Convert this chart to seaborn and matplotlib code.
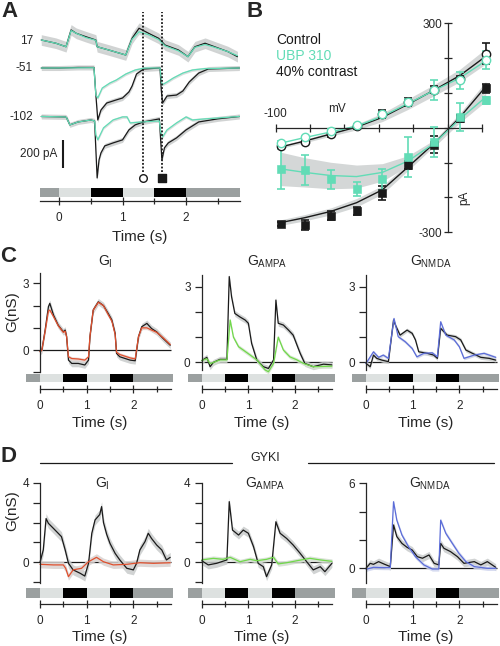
import numpy as np
import matplotlib
matplotlib.use('Agg')
import matplotlib.pyplot as plt
from matplotlib.lines import Line2D
import seaborn as sns

# ---------------- colours / canvas ----------------
W, H = 500, 646
TEAL = '#62dcb6'
RED = '#e0502e'
GREEN = '#70d84a'
BLUE = '#5b6cd8'
GREY_BAND = '#c9cccc'

# ---------------- stimulus ----------------
STIM_EDGES = [-0.3, 0.0, 0.5, 1.0, 1.5, 2.0, 2.85]
STIM_SHADES = ['#9ba0a0', '#dde1e0', '#000000', '#dde1e0', '#000000', '#9ba0a0']
T_END = 2.8
PROBE_T = [1.33, 1.62]          # open circle / filled square times

# ---------------- panel A (pA) ----------------
A_T17_K = [-0.28, -0.05, 0.11, 0.19, 0.27, 0.42, 0.58, 0.60, 0.78, 1.05, 1.15, 1.26, 1.41, 1.57,
           1.67, 1.88, 2.03, 2.14, 2.30, 2.45, 2.66, 2.81]
A_V17_K = [7, -16, -41, 79, 55, 31, 7, -41, -64, -100, 19, 91, 55, 19, -29, -64, -112, -41, -16,
           -41, -76, -112]
A_V17_G = [7, -16, -41, 75, 55, 25, 5, -41, -64, -100, 12, 66, 45, 10, -35, -70, -112, -45, -25,
           -45, -76, -105]

A_T51_K = [-0.28, 0.0, 0.30, 0.55, 0.58, 0.61, 0.66, 0.75, 0.90, 1.00, 1.10, 1.15, 1.22, 1.33,
           1.59, 1.61, 1.63, 1.70, 1.85, 1.95, 2.05, 2.20, 2.35, 2.84]
A_V51_K = [0, 0, 4, 4, -193, -371, -300, -250, -228, -214, -171, -129, -43, -7, 0, -157, -250,
           -200, -193, -164, -100, -36, -7, 0]
A_T51_G = [-0.28, 0.55, 0.58, 0.61, 0.68, 0.80, 0.90, 1.05, 1.20, 1.35, 1.59, 1.62, 1.70, 1.80,
           1.95, 2.10, 2.30, 2.84]
A_V51_G = [0, 2, -193, -214, -143, -107, -86, -43, -14, 0, 0, -121, -100, -71, -36, -14, -4, 0]

A_T102_K = [-0.28, 0.10, 0.12, 0.17, 0.30, 0.50, 0.56, 0.58, 0.60, 0.63, 0.66, 0.72, 0.85, 1.00,
            1.10, 1.20, 1.33, 1.58, 1.60, 1.62, 1.66, 1.72, 1.85, 2.00, 2.20, 2.50, 2.84]
A_V102_K = [1, -2, -9, -59, -38, -24, -31, -238, -438, -309, -259, -209, -188, -166, -95, -59,
            -38, -16, -166, -309, -223, -188, -152, -95, -38, -16, 1]
A_T102_G = [-0.28, 0.10, 0.12, 0.17, 0.30, 0.50, 0.56, 0.58, 0.61, 0.70, 0.85, 1.00, 1.07, 1.12,
            1.30, 1.58, 1.60, 1.63, 1.70, 1.85, 2.00, 2.10, 2.30, 2.84]
A_V102_G = [1, -2, -9, -59, -38, -24, -31, -130, -166, -80, -24, -2, -2, -45, -38, -31, -109,
            -145, -95, -45, -2, -24, -16, 1]

A_HOLD = ['17', '-51', '-102']
A_OFFSET = [0, -193, -540]      # vertical stacking of the three holding potentials
SCALE_PA = 200

# ---------------- panel B (I-V) ----------------
IV_MV = [-97, -83, -68, -53, -38, -23, -8, 7, 22]
CTRL_CIRC = [-51, -41, -17, 4, 40, 74, 109, 141, 213]
CTRL_CIRC_ERR = [8, 3, 10, 8, 12, 12, 10, 8, 30]
UBP_CIRC = [-44, -27, -8, 7, 40, 74, 109, 136, 194]
UBP_CIRC_ERR = [5, 4, 5, 5, 6, 8, 29, 24, 25]
CTRL_SQ = [-276, -278, -252, -239, -188, -106, -48, 28, 113]
CTRL_SQ_ERR = [6, 14, 12, 12, 20, 12, 24, 10, 12]
UBP_SQ = [-118, -122, -148, -175, -148, -84, -41, 31, 79]
UBP_SQ_ERR = [58, 43, 27, 20, 30, 57, 44, 41, 10]

FIT_CTRL_CIRC = [-55, -38, -18, 2, 30, 68, 108, 150, 205]
FIT_UBP_CIRC = [-44, -28, -12, 5, 33, 70, 107, 143, 192]
FIT_CTRL_SQ = [-272, -258, -240, -215, -178, -112, -45, 30, 118]
FIT_UBP_SQ = [-118, -128, -137, -140, -128, -95, -45, 25, 88]
BAND_CIRC = [4, 5, 6, 8, 12, 15, 16, 18, 22]
BAND_CTRL_SQ = [8, 9, 10, 12, 12, 10, 8, 12, 15]
BAND_UBP_SQ = [48, 42, 38, 33, 25, 15, 10, 10, 12]

# ---------------- panel C (nS) ----------------
C1_T = [0.0, 0.04, 0.11, 0.18, 0.21, 0.29, 0.39, 0.50, 0.54, 0.57, 0.61, 0.68, 0.82, 0.96, 1.04,
        1.07, 1.14, 1.25, 1.36, 1.46, 1.54, 1.61, 1.64, 1.71, 1.93, 2.04, 2.11, 2.18, 2.29, 2.39,
        2.50, 2.64, 2.79]
C1_K = [-0.07, 0.0, 0.9, 1.95, 2.1, 1.57, 1.12, 0.82, 0.9, 0.6, -0.45, -0.6, -0.6, -0.67, -0.45,
        0.6, 1.8, 2.17, 2.0, 1.65, 1.35, 0.75, -0.15, -0.3, -0.45, -0.48, 0.6, 1.05, 1.2, 0.97,
        0.82, 0.52, 0.22]
C1_R = [-0.07, 0.0, 0.85, 1.75, 1.8, 1.5, 1.1, 0.8, 0.85, 0.6, -0.3, -0.38, -0.4, -0.45, -0.3,
        0.6, 1.8, 2.15, 2.0, 1.6, 1.3, 0.7, -0.1, -0.2, -0.35, -0.4, 0.6, 1.0, 1.0, 0.9, 0.8,
        0.55, 0.25]

C2_T_K = [0.0, 0.11, 0.18, 0.25, 0.39, 0.54, 0.59, 0.64, 0.71, 0.82, 0.93, 1.00, 1.07, 1.18, 1.32,
          1.43, 1.54, 1.59, 1.64, 1.75, 1.86, 1.96, 2.11, 2.21, 2.39, 2.61, 2.79]
C2_K = [0.07, 0.2, -0.17, 0.0, 0.12, 0.12, 3.4, 2.6, 1.94, 1.8, 1.68, 1.55, 0.75, 0.1, -0.17,
        -0.24, 0.1, 2.47, 1.55, 1.48, 1.28, 1.08, 0.36, -0.04, -0.17, -0.07, -0.1]
C2_T_G = [0.0, 0.11, 0.18, 0.25, 0.39, 0.54, 0.61, 0.68, 0.79, 0.89, 1.04, 1.18, 1.36, 1.43, 1.54,
          1.64, 1.75, 1.89, 2.04, 2.18, 2.39, 2.79]
C2_G = [0.07, 0.15, -0.05, 0.0, 0.1, 0.1, 1.68, 1.0, 0.62, 0.49, 0.29, 0.1, -0.3, -0.37, -0.04,
        1.0, 0.49, 0.22, 0.1, -0.04, -0.17, -0.15]

C3_T_K = [0.0, 0.09, 0.16, 0.23, 0.34, 0.48, 0.59, 0.63, 0.73, 0.88, 0.99, 1.06, 1.13, 1.31, 1.45,
          1.53, 1.60, 1.74, 1.92, 2.03, 2.14, 2.28, 2.46, 2.64, 2.78]
C3_K = [-0.04, -0.17, 0.29, 0.16, 0.09, 0.03, 1.68, 1.48, 1.08, 1.28, 1.15, 0.89, 0.42, 0.36,
        0.29, 0.16, 1.35, 1.08, 1.02, 0.89, 0.49, 0.36, 0.2, 0.16, 0.09]
C3_T_B = [0.0, 0.16, 0.27, 0.37, 0.48, 0.60, 0.69, 0.84, 0.99, 1.09, 1.24, 1.42, 1.53, 1.60, 1.71,
          1.89, 2.00, 2.10, 2.32, 2.53, 2.78]
C3_B = [-0.04, 0.42, 0.2, 0.29, 0.16, 1.74, 1.02, 0.82, 0.55, 0.22, 0.36, 0.38, 0.22, 1.61, 1.08,
        0.89, 0.62, 0.16, 0.29, 0.36, 0.2]

# ---------------- panel D (GYKI, nS) ----------------
D1_T_K = [0.0, 0.07, 0.13, 0.18, 0.29, 0.39, 0.46, 0.54, 0.61, 0.71, 0.86, 0.96, 1.04, 1.11, 1.18,
          1.28, 1.32, 1.36, 1.43, 1.50, 1.61, 1.71, 1.86, 2.00, 2.07, 2.14, 2.25, 2.32, 2.39, 2.50,
          2.61, 2.71, 2.79]
D1_K = [0.0, 0.62, 2.2, 1.96, 1.7, 1.46, 1.29, 0.62, -0.05, -0.38, -0.55, -0.69, -0.05, 1.46,
        2.13, 2.4, 2.8, 2.0, 1.4, 0.95, 0.45, 0.12, -0.3, -0.38, -0.05, 0.62, 1.04, 1.46, 1.2,
        0.87, 0.62, 0.12, 0.25]
D1_T_R = [0.0, 0.29, 0.50, 0.55, 0.61, 0.71, 0.89, 1.04, 1.21, 1.36, 1.57, 1.86, 2.14, 2.43, 2.79]
D1_R = [-0.1, -0.13, -0.13, -0.3, -0.72, -0.38, -0.3, 0.03, 0.25, 0.03, -0.13, -0.1, -0.02,
        -0.05, -0.02]

D2_T_K = [0.0, 0.14, 0.32, 0.54, 0.59, 0.66, 0.79, 0.89, 1.00, 1.11, 1.21, 1.32, 1.39, 1.50, 1.59,
          1.68, 1.82, 1.96, 2.11, 2.25, 2.39, 2.54, 2.64, 2.79]
D2_K = [0.08, -0.13, -0.05, 0.12, 3.05, 1.62, 1.37, 1.62, 1.46, 0.79, -0.05, -0.22, -0.72, -0.13,
        2.04, 1.46, 1.2, 0.87, 0.45, 0.03, -0.38, -0.22, -0.47, -0.05]
D2_T_G = [0.0, 0.25, 0.46, 0.61, 0.82, 1.04, 1.18, 1.39, 1.54, 1.64, 1.82, 2.04, 2.32, 2.54, 2.79]
D2_G = [0.12, 0.2, 0.15, 0.25, 0.03, 0.15, 0.08, 0.15, 0.25, -0.08, -0.02, 0.08, 0.2, 0.12, 0.05]

D3_T_K = [0.0, 0.09, 0.16, 0.27, 0.38, 0.52, 0.59, 0.66, 0.77, 0.88, 0.99, 1.10, 1.21, 1.35, 1.46,
          1.56, 1.60, 1.67, 1.81, 1.96, 2.10, 2.32, 2.46, 2.60, 2.78]
D3_K = [0.0, 0.35, 0.28, 0.47, 0.31, 0.12, 3.06, 2.24, 1.76, 1.48, 1.29, 0.82, 0.71, 0.94, 0.35,
        0.24, 1.76, 1.41, 1.18, 0.82, 0.35, 0.47, 0.24, 0.47, 0.07]
D3_T_B = [0.0, 0.16, 0.38, 0.52, 0.59, 0.66, 0.77, 0.91, 1.06, 1.24, 1.42, 1.56, 1.60, 1.71, 1.85,
          1.99, 2.14, 2.32, 2.60, 2.78]
D3_B = [-0.07, 0.07, 0.05, 0.05, 4.7, 3.4, 2.35, 1.53, 0.82, 0.24, -0.05, -0.05, 3.4, 2.47, 1.76,
        1.06, 0.47, 0.12, 0.0, 0.0]

# ==========================================
sns.set_theme(style='ticks', rc={'axes.linewidth': 0.9, 'xtick.major.width': 0.9,
                                 'ytick.major.width': 0.9, 'xtick.minor.width': 0.9})
plt.rcParams['font.family'] = ['Liberation Sans', 'DejaVu Sans']
plt.rcParams['mathtext.fontset'] = 'custom'
plt.rcParams['mathtext.rm'] = 'Liberation Sans'
plt.rcParams['axes.unicode_minus'] = False

fig = plt.figure(figsize=(W / 100, H / 100), dpi=100)


def px_axes(left, top, right, bottom):
    return fig.add_axes([left / W, 1 - bottom / H, (right - left) / W, (bottom - top) / H])


def px_text(x, y, s, **kw):
    fig.text(x / W, 1 - y / H, s, **kw)


def trace(ax, t, v, color, sem, offset=0.0, band=None, lw=0.9):
    t = np.asarray(t, float)
    v = np.asarray(v, float) + offset
    ax.fill_between(t, v - sem, v + sem, color=band or GREY_BAND, lw=0, alpha=0.85)
    sns.lineplot(x=t, y=v, ax=ax, color=color, lw=lw, sort=False, errorbar=None)


def stim_axis(left, right, top, line_y, bar_bottom, spine_lo, label_pad):
    ax = px_axes(left, top, right, line_y)
    y0 = (line_y - bar_bottom) / (line_y - top)
    edges = np.asarray(STIM_EDGES)
    ax.barh(y0 + (1 - y0) / 2, np.diff(edges), left=edges[:-1], height=1 - y0,
            color=STIM_SHADES, lw=0)
    ax.set_xlim(-0.3, 2.85)
    ax.set_ylim(0, 1)
    for s in ['left', 'right', 'top']:
        ax.spines[s].set_visible(False)
    ax.spines['bottom'].set_bounds(spine_lo, T_END if spine_lo >= 0 else 2.85)
    ax.set_yticks([])
    ax.set_xticks([0, 1, 2])
    ax.set_xticklabels(['0', '1', '2'])
    ax.set_xticks([0.5, 1.5, 2.5], minor=True)
    ax.tick_params(axis='x', which='major', direction='inout', length=6, width=0.9, pad=5,
                   labelsize=8.5)
    ax.tick_params(axis='x', which='minor', direction='inout', length=4, width=0.9)
    ax.set_xlabel('Time (s)', fontsize=11, labelpad=label_pad)
    ax.patch.set_visible(False)
    return ax


def cond_axes(left, top, bottom, bounds):
    ax = px_axes(left, top, left + 147, bottom)
    for s in ['right', 'top', 'bottom']:
        ax.spines[s].set_visible(False)
    ax.spines['left'].set_position(('data', 0))
    ax.spines['left'].set_bounds(*bounds)
    ax.hlines(0, 0, T_END, color='k', lw=0.9, zorder=1)
    ax.set_xticks([])
    ax.patch.set_visible(False)
    return ax


def finish_cond(ax, ylim, ticks, labels):
    ax.set_xlim(-0.3, 2.85)
    ax.set_ylim(ylim)
    ax.set_yticks(ticks)
    ax.set_yticklabels(labels)
    ax.tick_params(axis='y', direction='out', length=5, width=0.9, pad=3, labelsize=8.5)
    ax.set_xlabel('')
    ax.set_ylabel('')


def sub_title(name):
    return r'G$_{\mathregular{' + name + '}}$'


# ---------------- A ----------------
axA = px_axes(40, 5, 240, 183)
pairs = [(A_T17_K, A_V17_K, A_T17_K, A_V17_G, 38, 20),
         (A_T51_K, A_V51_K, A_T51_G, A_V51_G, 18, 10),
         (A_T102_K, A_V102_K, A_T102_G, A_V102_G, 18, 10)]
for (tk, vk, tg, vg, sk, sg), off in zip(pairs, A_OFFSET):
    trace(axA, tk, vk, 'k', sk, off)
    trace(axA, tg, vg, TEAL, sg, off, band='#d3dad8')
axA.vlines(PROBE_T, -935, 207, colors='k', linestyles=(0, (1.0, 1.0)), lw=1.3)
axA.scatter(PROBE_T[0], -978, s=30, marker='o', facecolor='white', edgecolor='k', lw=1.0,
            clip_on=False, zorder=5)
axA.scatter(PROBE_T[1], -978, s=30, marker='s', facecolor='k', edgecolor='k', clip_on=False,
            zorder=5)
axA.vlines(0.06, -907, -907 + SCALE_PA, colors='k', lw=1.5)
axA.set_xlim(-0.3, 2.85)
axA.set_ylim(-1014, 257)
axA.axis('off')
for lab, off in zip(A_HOLD, A_OFFSET):
    axA.text(-0.41, off, lab, ha='right', va='center', fontsize=8.5)
axA.text(-0.03, -807, '200 pA', ha='right', va='center', fontsize=8.5)
stim_axis(40, 240, 188, 201, 197, -0.3, 4)

# ---------------- B ----------------
axB = px_axes(268, 18, 494, 240)
mv = np.asarray(IV_MV, float)
for fit, band in [(FIT_CTRL_CIRC, BAND_CIRC), (FIT_CTRL_SQ, BAND_CTRL_SQ),
                  (FIT_UBP_SQ, BAND_UBP_SQ)]:
    f = np.asarray(fit, float)
    b = np.asarray(band, float)
    axB.fill_between(mv, f - b, f + b, color='#d4d7d7', lw=0, zorder=1)
for fit, col in [(FIT_CTRL_CIRC, 'k'), (FIT_UBP_CIRC, TEAL), (FIT_CTRL_SQ, 'k'),
                 (FIT_UBP_SQ, TEAL)]:
    sns.lineplot(x=mv, y=fit, ax=axB, color=col, lw=1.0, sort=False, errorbar=None, zorder=2)
for vals, err, col in [(CTRL_SQ, CTRL_SQ_ERR, 'k'), (UBP_SQ, UBP_SQ_ERR, TEAL),
                       (CTRL_CIRC, CTRL_CIRC_ERR, 'k'), (UBP_CIRC, UBP_CIRC_ERR, TEAL)]:
    axB.errorbar(mv, vals, yerr=err, fmt='none', ecolor=col, elinewidth=1.2, capsize=3.2,
                 capthick=1.2, zorder=3)
sns.scatterplot(x=mv, y=CTRL_SQ, ax=axB, marker='s', s=30, color='k', edgecolor='k', zorder=4)
sns.scatterplot(x=mv, y=UBP_SQ, ax=axB, marker='s', s=30, color=TEAL, edgecolor=TEAL, zorder=4)
sns.scatterplot(x=mv, y=CTRL_CIRC, ax=axB, marker='o', s=36, color='white', edgecolor='k',
                linewidth=1.0, zorder=4)
sns.scatterplot(x=mv, y=UBP_CIRC, ax=axB, marker='o', s=36, color='white', edgecolor=TEAL,
                linewidth=1.0, zorder=4)
axB.set_xlim(-104.4, 26.8)
axB.set_ylim(-322, 315)
for s in ['right', 'top']:
    axB.spines[s].set_visible(False)
axB.spines['left'].set_position(('data', 0))
axB.spines['bottom'].set_position(('data', 0))
axB.spines['left'].set_bounds(-300, 300)
axB.spines['bottom'].set_bounds(-100, 20)
axB.set_xticks(np.arange(-100, 21, 20))
axB.set_xticklabels([])
axB.set_yticks(np.arange(-300, 301, 100))
axB.set_yticklabels(['-300', '', '', '', '', '', '300'])
axB.tick_params(axis='x', direction='inout', length=6, width=0.9)
axB.tick_params(axis='y', direction='inout', length=6, width=0.9, pad=1, labelsize=8.5)
axB.set_xlabel('')
axB.set_ylabel('')
axB.patch.set_visible(False)
axB.text(-100, 39, '-100', ha='center', va='center', fontsize=8.5)
axB.text(-64.5, 53, 'mV', ha='center', va='center', fontsize=8.5)
axB.text(9.5, -200, 'pA', ha='center', va='center', rotation=90, fontsize=8.5)
px_text(276, 40, 'Control', fontsize=10, va='center', color='k')
px_text(276, 56, 'UBP 310', fontsize=10, va='center', color=TEAL)
px_text(276, 72, '40% contrast', fontsize=10, va='center', color='k')

# ---------------- C ----------------
c_specs = [
    (26, C1_T, C1_K, C1_T, C1_R, RED, '#e3cfca', (-1.03, 3.69), (-1, 3.45),
     [-1, 0, 1, 2, 3], ['', '0', '', '', '3'], 0.15, 0.08),
    (187.7, C2_T_K, C2_K, C2_T_G, C2_G, GREEN, '#d3e3cc', (-0.42, 3.74), (-0.3, 3.45),
     [0, 1, 2, 3], ['0', '', '', '3'], 0.12, 0.08),
    (352, C3_T_K, C3_K, C3_T_B, C3_B, BLUE, '#ccd1e6', (-0.42, 3.74), (-0.3, 3.45),
     [0, 1, 2, 3], ['0', '', '', '3'], 0.08, 0.06),
]
for left, tk, vk, tc, vc, col, bcol, ylim, bounds, ticks, labels, sk, sc in c_specs:
    ax = cond_axes(left, 268, 373, bounds)
    trace(ax, tk, vk, 'k', sk)
    trace(ax, tc, vc, col, sc, band=bcol)
    finish_cond(ax, ylim, ticks, labels)
    stim_axis(left, left + 147, 374, 389, 382.3, 0, 3)
px_text(105, 262, sub_title('I'), fontsize=10, ha='center', va='center')
px_text(267, 262, sub_title('AMPA'), fontsize=10, ha='center', va='center')
px_text(431, 262, sub_title('NMDA'), fontsize=10, ha='center', va='center')
px_text(12, 312, 'G(nS)', fontsize=11, ha='center', va='center', rotation=90)

# ---------------- D ----------------
d_specs = [
    (26, D1_T_K, D1_K, D1_T_R, D1_R, RED, '#d9d2d0', (-1.19, 4.64), (-1.05, 4),
     [-1, 0, 1, 2, 3, 4], ['', '0', '', '', '', '4'], 0.25, 0.18),
    (187.7, D2_T_K, D2_K, D2_T_G, D2_G, GREEN, '#d3ddd0', (-1.19, 4.64), (-1.05, 4),
     [-1, 0, 1, 2, 3, 4], ['', '0', '', '', '', '4'], 0.2, 0.12),
    (352, D3_T_K, D3_K, D3_T_B, D3_B, BLUE, '#cfd5ee', (-1.25, 6.94), (-1.05, 6),
     [0, 2, 4, 6], ['0', '', '', '6'], 0.25, 0.15),
]
for left, tk, vk, tc, vc, col, bcol, ylim, bounds, ticks, labels, sk, sc in d_specs:
    ax = cond_axes(left, 470, 586, bounds)
    trace(ax, tk, vk, 'k', sk)
    trace(ax, tc, vc, col, sc, band=bcol)
    finish_cond(ax, ylim, ticks, labels)
    stim_axis(left, left + 147, 588, 604, 597.7, 0, 2)
px_text(102, 484, sub_title('I'), fontsize=10, ha='center', va='center')
px_text(265, 484, sub_title('AMPA'), fontsize=10, ha='center', va='center')
px_text(430, 484, sub_title('NMDA'), fontsize=10, ha='center', va='center')
px_text(12, 511, 'G(nS)', fontsize=11, ha='center', va='center', rotation=90)
px_text(265, 458, 'GYKI', fontsize=9, ha='center', va='center')
for x0, x1 in [(40, 232), (308, 494)]:
    fig.add_artist(Line2D([x0 / W, x1 / W], [1 - 463 / H] * 2, color='k', lw=0.9,
                          transform=fig.transFigure))

# ---------------- panel letters ----------------
for lab, x, y in [('A', 1, 1), ('B', 246, 1), ('C', 0, 246), ('D', 0, 446)]:
    px_text(x, y, lab, fontsize=16, fontweight='bold', va='top', ha='left')

fig.savefig('out.png', dpi=100)
